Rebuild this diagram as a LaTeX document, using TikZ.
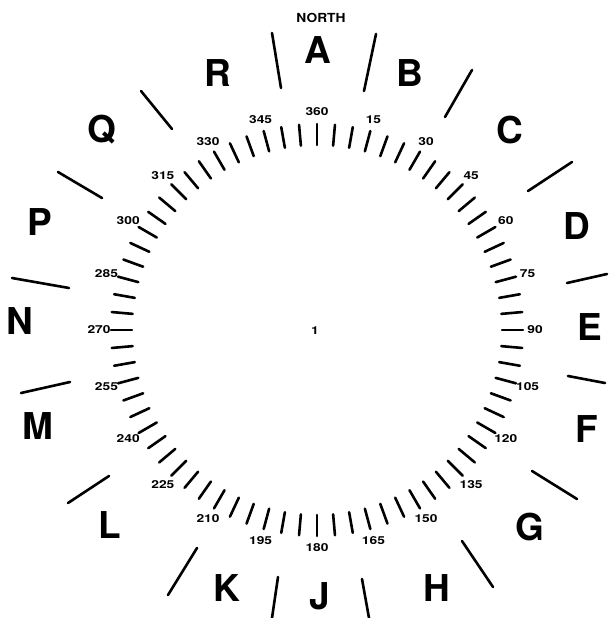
\documentclass[tikz,border=0pt]{standalone}
\usepackage{fontspec}
\setmainfont{TeX Gyre Heros}
\begin{document}
\begin{tikzpicture}[x=1pt,y=-1pt,
  tickline/.style={line width=2.6pt,line cap=round},
  divider/.style={line width=2.6pt,line cap=round},
  deglabel/.style={font=\bfseries\fontsize{11}{11}\selectfont,inner sep=0pt,xscale=1.25},
  sector/.style={font=\bfseries\fontsize{37}{37}\selectfont,inner sep=0pt},
  northlabel/.style={font=\bfseries\fontsize{12.5}{12.5}\selectfont,inner sep=0pt,xscale=1.1}]
\useasboundingbox (0,0) rectangle (611,618);
% tick marks every 5 degrees
\foreach \t in {0,5,...,355}{
  \draw[tickline] ({317+185*sin(\t)},{330-185*cos(\t)}) -- ({317+206*sin(\t)},{330-206*cos(\t)});
}
% degree labels
\foreach \t in {15,30,...,360}{
  \node[deglabel] (deg\t) at ({317+218*sin(\t)},{330-218*cos(\t)}) {\t};
}
\node[northlabel] (north) at (321,18) {NORTH};
\node[deglabel] (centre) at (315,331) {1};
% sector letters
\node[sector] (A) at (318,50) {A};
\node[sector] (B) at (410,73) {B};
\node[sector] (C) at (510,130) {C};
\node[sector] (D) at (577,226) {D};
\node[sector] (E) at (590,327) {E};
\node[sector] (F) at (587,429) {F};
\node[sector] (G) at (530,527) {G};
\node[sector] (H) at (437,588) {H};
\node[sector] (J) at (320,596) {J};
\node[sector] (K) at (227,588) {K};
\node[sector] (L) at (110,525) {L};
\node[sector] (M) at (38,426) {M};
\node[sector] (N) at (20,321) {N};
\node[sector] (P) at (40,222) {P};
\node[sector] (Q) at (102,130) {Q};
\node[sector] (R) at (218,73) {R};
% sector dividers
\draw[divider] (272,33) -- (281,88);
\draw[divider] (376,34) -- (364,91);
\draw[divider] (472,70) -- (445,117);
\draw[divider] (572,162) -- (528,191);
\draw[divider] (607,274) -- (567,283);
\draw[divider] (568,376) -- (605,383);
\draw[divider] (532,471) -- (577,499);
\draw[divider] (462,541) -- (493,587);
\draw[divider] (362,579) -- (369,618);
\draw[divider] (278,577) -- (272,618);
\draw[divider] (197,548) -- (168,595);
\draw[divider] (109,476) -- (68,503);
\draw[divider] (70,382) -- (21,393);
\draw[divider] (12,278) -- (69,288);
\draw[divider] (58,172) -- (102,198);
\draw[divider] (141,91) -- (172,129);
\end{tikzpicture}
\end{document}
